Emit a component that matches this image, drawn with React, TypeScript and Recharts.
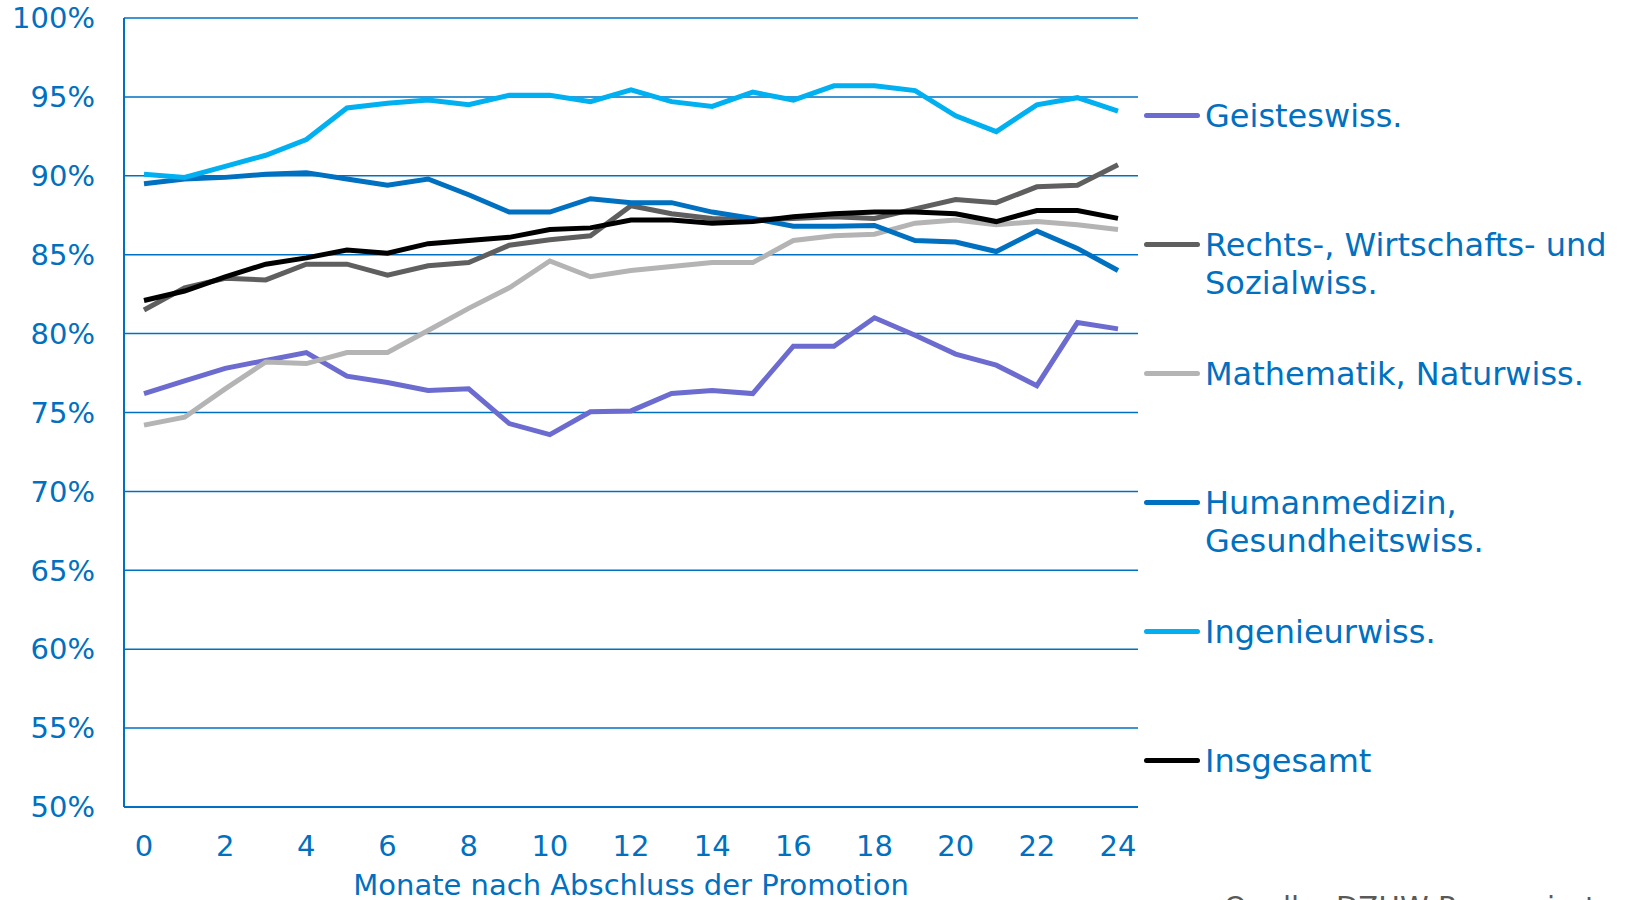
import React from 'react';
import { LineChart, Line, XAxis, YAxis, CartesianGrid, Legend } from 'recharts';

// Monate nach Abschluss der Promotion
const months = [0, 1, 2, 3, 4, 5, 6, 7, 8, 9, 10, 11, 12, 13, 14, 15, 16, 17, 18, 19, 20, 21, 22, 23, 24];

// Anteile in Prozent
const geisteswiss = [76.2, 77.0, 77.8, 78.3, 78.8, 77.3, 76.9, 76.4, 76.5, 74.3, 73.6, 75.05, 75.1, 76.2, 76.4, 76.2, 79.2, 79.2, 81.0, 79.9, 78.7, 78.0, 76.7, 80.7, 80.3];
const rechtsWiSo = [81.5, 82.9, 83.5, 83.4, 84.4, 84.4, 83.7, 84.3, 84.5, 85.6, 85.95, 86.2, 88.1, 87.6, 87.3, 87.2, 87.3, 87.4, 87.3, 87.9, 88.5, 88.3, 89.3, 89.4, 90.7];
const mathNat = [74.2, 74.7, 76.5, 78.2, 78.1, 78.8, 78.8, 80.2, 81.6, 82.9, 84.6, 83.6, 84.0, 84.25, 84.5, 84.5, 85.9, 86.2, 86.3, 87.0, 87.2, 86.9, 87.1, 86.9, 86.6];
const humanmedizin = [89.5, 89.8, 89.9, 90.1, 90.2, 89.8, 89.4, 89.8, 88.8, 87.7, 87.7, 88.55, 88.3, 88.3, 87.7, 87.3, 86.8, 86.8, 86.85, 85.9, 85.8, 85.2, 86.5, 85.4, 84.0];
const ingenieurwiss = [90.1, 89.9, 90.6, 91.3, 92.3, 94.3, 94.6, 94.8, 94.5, 95.1, 95.1, 94.7, 95.45, 94.7, 94.4, 95.3, 94.8, 95.7, 95.7, 95.4, 93.8, 92.8, 94.5, 94.95, 94.1];
const insgesamt = [82.1, 82.7, 83.6, 84.4, 84.8, 85.3, 85.1, 85.7, 85.9, 86.1, 86.6, 86.7, 87.2, 87.2, 87.0, 87.1, 87.4, 87.6, 87.7, 87.7, 87.6, 87.1, 87.8, 87.8, 87.3];

const yTicks = [50, 55, 60, 65, 70, 75, 80, 85, 90, 95, 100];

const BLUE = '#0070C0';
const FONT = 'Verdana, "DejaVu Sans", sans-serif';

const series = [
  { key: 'geist', name: 'Geisteswiss.', lines: ['Geisteswiss.'], color: '#6B6BD0' },
  { key: 'rws', name: 'Rechts-, Wirtschafts- und Sozialwiss.', lines: ['Rechts-, Wirtschafts- und', 'Sozialwiss.'], color: '#5F5F5F' },
  { key: 'math', name: 'Mathematik, Naturwiss.', lines: ['Mathematik, Naturwiss.'], color: '#B4B4B4' },
  { key: 'med', name: 'Humanmedizin, Gesundheitswiss.', lines: ['Humanmedizin,', 'Gesundheitswiss.'], color: '#0070C0' },
  { key: 'ing', name: 'Ingenieurwiss.', lines: ['Ingenieurwiss.'], color: '#00B0F0' },
  { key: 'total', name: 'Insgesamt', lines: ['Insgesamt'], color: '#000000' },
];

const data = months.map((m, i) => ({
  month: m,
  geist: geisteswiss[i],
  rws: rechtsWiSo[i],
  math: mathNat[i],
  med: humanmedizin[i],
  ing: ingenieurwiss[i],
  total: insgesamt[i],
}));

const renderLegend = () => (
  <div style={{ fontFamily: FONT, fontSize: 32, color: BLUE }}>
    {series.map(s => (
      <div key={s.key} style={{ display: 'flex', alignItems: 'flex-start', height: 129 }}>
        <div style={{ width: 56, height: 5, borderRadius: 3, background: s.color, marginTop: 16, flex: 'none' }} />
        <div style={{ marginLeft: 5, lineHeight: '38px', whiteSpace: 'nowrap' }}>
          {s.lines.map(l => <div key={l}>{l}</div>)}
        </div>
      </div>
    ))}
  </div>
);

const App: React.FC = () => {
  return (
    <div style={{ position: 'absolute', left: 0, top: 0, width: 1626, height: 900, overflow: 'hidden', background: '#fff' }}>
      <LineChart width={1626} height={900} data={data} margin={{ top: 18, right: 488, bottom: 33, left: 24 }}>
        <CartesianGrid vertical={false} stroke={BLUE} strokeWidth={1.5} />
        <XAxis
          dataKey="month"
          height={60}
          interval={1}
          padding={{ left: 20, right: 20 }}
          axisLine={{ stroke: BLUE, strokeWidth: 2 }}
          tickLine={false}
          tickSize={6}
          tickMargin={22}
          tick={{ fill: BLUE, fontSize: 29, fontFamily: FONT }}
          label={{ value: 'Monate nach Abschluss der Promotion', position: 'bottom', offset: 7, fill: BLUE, fontSize: 29, fontFamily: FONT }}
        />
        <YAxis
          width={100}
          domain={[50, 100]}
          ticks={yTicks}
          interval={0}
          tickFormatter={(v: number) => `${v}%`}
          axisLine={{ stroke: BLUE, strokeWidth: 2 }}
          tickLine={false}
          tickSize={6}
          tickMargin={23}
          tick={{ fill: BLUE, fontSize: 29, fontFamily: FONT }}
        />
        <Legend
          layout="horizontal"
          align="center"
          verticalAlign="middle"
          content={renderLegend}
          wrapperStyle={{ left: 1144, top: 97, width: 480, height: 780 }}
        />
        {series.map(s => (
          <Line
            key={s.key}
            type="linear"
            dataKey={s.key}
            name={s.name}
            stroke={s.color}
            strokeWidth={5}
            dot={false}
            activeDot={false}
            isAnimationActive={false}
          />
        ))}
      </LineChart>
      <div style={{ position: 'absolute', left: 1224, top: 893, fontFamily: FONT, fontSize: 29, lineHeight: '29px', color: '#595959', whiteSpace: 'nowrap' }}>
        Quelle: DZHW-Promoviertenpanel
      </div>
    </div>
  );
};

export default App;
